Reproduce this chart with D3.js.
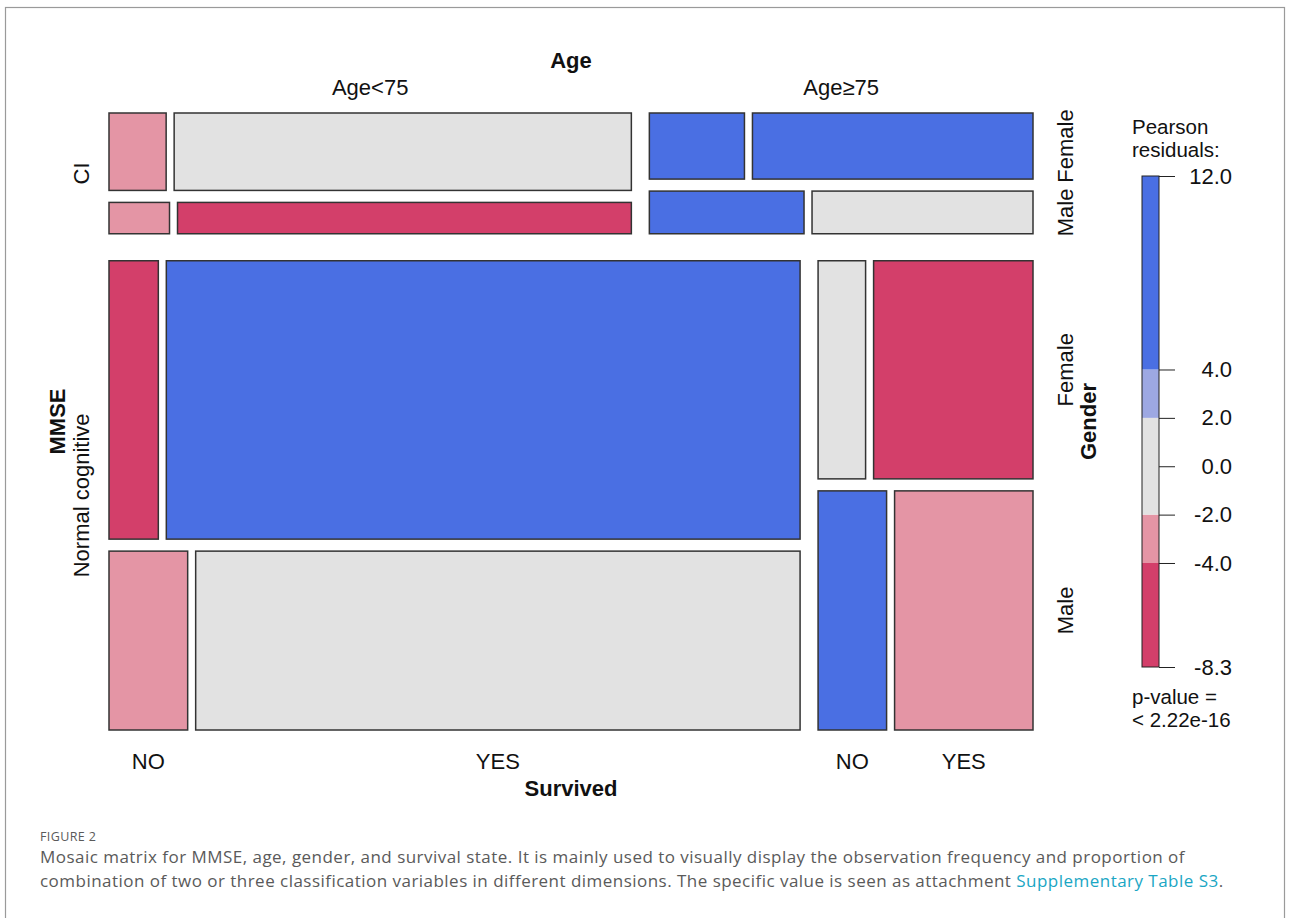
<!DOCTYPE html>
<html>
<head>
<meta charset="utf-8">
<script src="https://cdn.jsdelivr.net/npm/d3@7"></script>
<style>
  body { margin: 0; background: #fff; }
  .ax { font-family: "Liberation Sans", Arial, sans-serif; font-size: 22px; fill: #111; }
  .bold { font-weight: bold; }
  .cap { font-family: "Open Sans", "Noto Sans", sans-serif; fill: #5a5a5a; }
</style>
</head>
<body>
<div id="mosaic"></div>
<script>
// factor levels
const mmseLevels = ["CI", "Normal cognitive"]
const ageLevels = ["Age<75", "Age≥75"]
const genderLevels = ["Female", "Male"]
const survivedLevels = ["NO", "YES"]

const countsCI = [[[14, 112], [6, 45]], [[20, 59], [21, 30]]]
const countsNormal = [[[40, 514], [41, 315]], [[31, 104], [49, 99]]]

// pearson residuals, same layout, estimated from the shading
const residCI = [[[-3.0, 0.5], [-2.6, -5.8]], [[6.5, 5.2], [12.0, 1.1]]]
const residNormal = [[[-5.2, 7.4], [-3.1, 1.4]], [[0.3, -8.3], [8.4, -3.4]]]

// legend
const legendTicks = [12.0, 4.0, 2.0, 0.0, -2.0, -4.0, -8.3]
const shadeBreaks = [-4, -2, 2, 4]
const shadeColors = ["#D33F6A", "#E495A5", "#E2E2E2", "#9DA8E2", "#4A6FE3"]

const width = 1290, height = 918
const svg = d3.select("#mosaic").append("svg")
  .attr("width", width).attr("height", height)

// figure frame
svg.append("rect")
  .attr("x", 5.5).attr("y", 7.5).attr("width", 1279).attr("height", 930)
  .attr("fill", "none").attr("stroke", "#9a9a9a").attr("stroke-width", 1.2)

const shade = d3.scaleThreshold().domain(shadeBreaks).range(shadeColors)

// split a box along "h" (left to right) or "v" (top to bottom)
function split(box, values, dir, gap) {
  const len = dir === "h" ? box.w : box.h
  const s = d3.scaleLinear()
    .domain([0, d3.sum(values)])
    .range([0, len - gap * (values.length - 1)])
  let acc = 0
  return values.map((v, i) => {
    const start = s(acc) + gap * i
    acc += v
    if (dir === "h") return {x: box.x + start, y: box.y, w: s(v), h: box.h}
    return {x: box.x, y: box.y + start, w: box.w, h: s(v)}
  })
}

const plot = {x: 109, y: 113, w: 924, h: 617}
const counts = [countsCI, countsNormal]
const resids = [residCI, residNormal]
const gaps = [27, 18, 12, 8]

const sumDeep = a => Array.isArray(a) ? d3.sum(a, sumDeep) : a

const cells = []
const mmseBoxes = split(plot, counts.map(sumDeep), "v", gaps[0])
mmseBoxes.forEach((mb, m) => {
  const ageBoxes = split(mb, counts[m].map(sumDeep), "h", gaps[1])
  ageBoxes.forEach((ab, a) => {
    const genBoxes = split(ab, counts[m][a].map(sumDeep), "v", gaps[2])
    genBoxes.forEach((gb, g) => {
      const survBoxes = split(gb, counts[m][a][g], "h", gaps[3])
      survBoxes.forEach((sb, s) => {
        cells.push(Object.assign({m, a, g, s, r: resids[m][a][g][s]}, sb))
      })
    })
  })
})

svg.append("g").selectAll("rect")
  .data(cells)
  .enter()
  .append("rect")
  .attr("x", d => d.x).attr("y", d => d.y)
  .attr("width", d => d.w).attr("height", d => d.h)
  .attr("fill", d => shade(d.r))
  .attr("stroke", "#333").attr("stroke-width", 1.5)

// top labels: age levels over the first mmse row
const topCells = cells.filter(d => d.m === 0 && d.g === 0 && d.s === 0)
topCells.forEach(d => {
  const last = cells.find(c => c.m === 0 && c.a === d.a && c.g === 0 && c.s === 1)
  svg.append("text").attr("class", "ax")
    .attr("x", (d.x + last.x + last.w) / 2).attr("y", 95)
    .attr("text-anchor", "middle").text(ageLevels[d.a])
})
svg.append("text").attr("class", "ax bold")
  .attr("x", plot.x + plot.w / 2).attr("y", 68)
  .attr("text-anchor", "middle").text("Age")

// left labels: mmse levels
mmseBoxes.forEach((mb, m) => {
  svg.append("text").attr("class", "ax")
    .attr("transform", `translate(89,${mb.y + mb.h / 2}) rotate(-90)`)
    .attr("text-anchor", "middle").text(mmseLevels[m])
})
svg.append("text").attr("class", "ax bold")
  .attr("transform", `translate(65,${plot.y + plot.h / 2}) rotate(-90)`)
  .attr("text-anchor", "middle").text("MMSE")

// right labels: gender levels beside the last age column
cells.filter(d => d.a === 1 && d.s === 1).forEach(d => {
  svg.append("text").attr("class", "ax")
    .attr("transform", `translate(1073,${d.y + d.h / 2}) rotate(-90)`)
    .attr("text-anchor", "middle").text(genderLevels[d.g])
})
svg.append("text").attr("class", "ax bold")
  .attr("transform", `translate(1096,${plot.y + plot.h / 2}) rotate(-90)`)
  .attr("text-anchor", "middle").text("Gender")

// bottom labels: survived levels under the last row
cells.filter(d => d.m === 1 && d.g === 1).forEach(d => {
  svg.append("text").attr("class", "ax")
    .attr("x", d.x + d.w / 2).attr("y", 769)
    .attr("text-anchor", "middle").text(survivedLevels[d.s])
})
svg.append("text").attr("class", "ax bold")
  .attr("x", plot.x + plot.w / 2).attr("y", 796)
  .attr("text-anchor", "middle").text("Survived")

// legend
const leg = svg.append("g")
const ly = d3.scaleLinear()
  .domain([d3.min(legendTicks), d3.max(legendTicks)])
  .range([667, 176])
const bounds = [d3.min(legendTicks), ...shadeBreaks, d3.max(legendTicks)]
leg.selectAll("rect.band")
  .data(d3.pairs(bounds))
  .enter()
  .append("rect")
  .attr("class", "band")
  .attr("x", 1142).attr("width", 17)
  .attr("y", d => ly(d[1])).attr("height", d => ly(d[0]) - ly(d[1]))
  .attr("fill", d => shade((d[0] + d[1]) / 2))
leg.append("rect")
  .attr("x", 1142).attr("y", ly(12)).attr("width", 17).attr("height", ly(-8.3) - ly(12))
  .attr("fill", "none").attr("stroke", "#222").attr("stroke-width", 1)

const legAxis = d3.axisRight(ly)
  .tickValues(legendTicks)
  .tickFormat(d3.format(".1f"))
  .tickSize(16)
  .tickPadding(4)
const ag = leg.append("g").attr("transform", "translate(1159,0)").call(legAxis)
ag.select(".domain").remove()
ag.selectAll("line").attr("stroke", "#222")
ag.selectAll("text")
  .attr("class", "ax")
  .attr("x", 73)
  .attr("text-anchor", "end")
  .attr("fill", "#111")
  .style("font-size", "22px")
  .style("font-family", "'Liberation Sans', Arial, sans-serif")
  .text(d => d3.format(".1f")(d).replace("−", "-"))

const legNote = (txt, y) => leg.append("text").attr("class", "ax")
  .attr("x", 1132).attr("y", y).style("font-size", "20.5px").text(txt)
legNote("Pearson", 134)
legNote("residuals:", 157)
legNote("p-value =", 704)
legNote("< 2.22e-16", 727)

// caption
svg.append("text").attr("class", "cap")
  .attr("x", 40).attr("y", 841).style("font-size", "12.5px").style("letter-spacing", "0.4px")
  .text("FIGURE 2")
const line1 = svg.append("text").attr("class", "cap")
  .attr("x", 40).attr("y", 863).style("font-size", "17px")
  .text("Mosaic matrix for MMSE, age, gender, and survival state. It is mainly used to visually display the observation frequency and proportion of")
const line2 = svg.append("text").attr("class", "cap")
  .attr("x", 40).attr("y", 887).style("font-size", "17px")
line2.append("tspan")
  .text("combination of two or three classification variables in different dimensions. The specific value is seen as attachment ")
line2.append("tspan").attr("fill", "#1aa6c4").text("Supplementary Table S3")
line2.append("tspan").text(".")

// stretch caption spacing so the first line spans like the figure's
const w1 = line1.node().getComputedTextLength()
const n1 = line1.text().length
const ls = Math.max(0, (1145 - w1) / n1)
line1.style("letter-spacing", ls + "px")
line2.style("letter-spacing", ls + "px")
</script>
</body>
</html>
